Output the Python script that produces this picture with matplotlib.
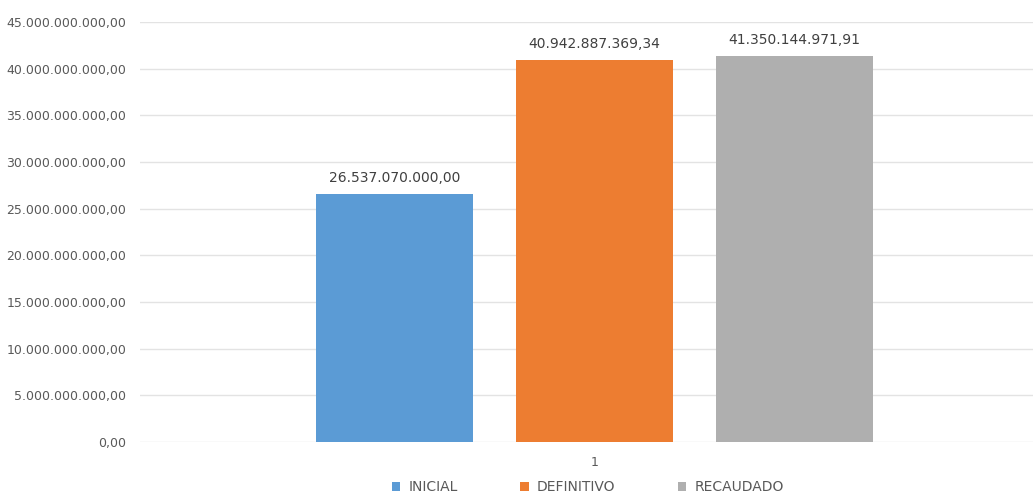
import matplotlib
matplotlib.use("Agg")
import matplotlib.pyplot as plt
from matplotlib.ticker import FuncFormatter

series = ["INICIAL", "DEFINITIVO", "RECAUDADO"]
values = [26537070000.00, 40942887369.34, 41350144971.91]
colors = ["#5B9BD5", "#ED7D31", "#AFAFAF"]
category = "1"

def fmt_es(v, decimals=2):
    s = f"{v:,.{decimals}f}"
    return s.replace(",", "X").replace(".", ",").replace("X", ".")

plt.rcParams['font.family'] = ['DejaVu Sans']

fig = plt.figure(figsize=(10.33, 4.95), dpi=100)
ax = fig.add_axes([140/1033, 1-442/495, 1-140/1033, (442-22)/495])

width = 0.785
offsets = [-1, 0, 1]
for s, v, c, o in zip(series, values, colors, offsets):
    ax.bar(o, v, width=width, color=c, label=s, zorder=3)
    ax.text(o, v + 1.0e9, fmt_es(v), ha='center', va='bottom', fontsize=10,
            color='#404040')

ax.set_ylim(0, 45e9)
ax.set_yticks([i * 5e9 for i in range(10)])
ax.yaxis.set_major_formatter(FuncFormatter(lambda v, p: fmt_es(v)))
ax.set_xlim(-2.2725, 2.1925)
ax.set_xticks([0])
ax.set_xticklabels([category])
ax.grid(axis='y', color='#E3E3E3', linewidth=1, zorder=0)
for sp in ax.spines.values():
    sp.set_visible(False)
ax.tick_params(axis='both', length=0, colors='#595959', labelsize=9)
ax.tick_params(axis='y', pad=10)
ax.tick_params(axis='x', pad=10)

leg = fig.legend(loc='center', bbox_to_anchor=(588/1033, 1-487/495), ncol=3,
                 frameon=False, fontsize=10, handlelength=0.6, handleheight=0.6,
                 columnspacing=4.5, handletextpad=0.6)
for t in leg.get_texts():
    t.set_color('#595959')

fig.savefig("out.png", dpi=100)
